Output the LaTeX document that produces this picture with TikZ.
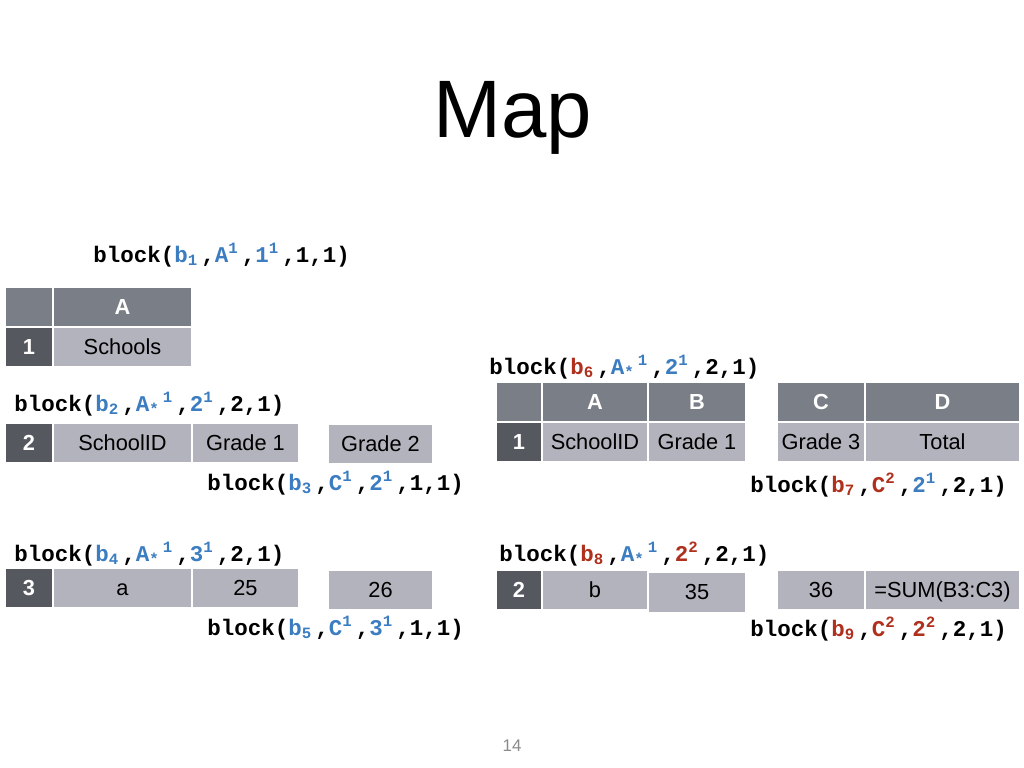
\documentclass[tikz,border=0pt]{standalone}
\usepackage{fontspec}
\setmainfont{Liberation Sans}
\setmonofont{Liberation Mono}
\usetikzlibrary{positioning}

\definecolor{hdrgray}{HTML}{7A7E86}
\definecolor{rowgray}{HTML}{55585E}
\definecolor{cellgray}{HTML}{B3B3BD}
\definecolor{idxblue}{HTML}{3B7DC0}
\definecolor{idxred}{HTML}{B0301E}
\definecolor{pagegray}{HTML}{8A8A8A}
\newcommand{\bl}[1]{\textcolor{idxblue}{#1}}
\newcommand{\rd}[1]{\textcolor{idxred}{#1}}
\newcommand{\sub}[1]{\textsubscript{#1}\kern0.15em}
\newcommand{\sups}[1]{\textsuperscript{#1}\kern0.15em}

\begin{document}
\begin{tikzpicture}[node distance=0pt]
  \tikzstyle{cell}=[draw=white,line width=0.8pt,inner sep=0pt,outer sep=0pt,minimum height=1cm,text height=11pt,text depth=0pt,font=\fontsize{15.5}{17}\selectfont]
  \tikzstyle{hdr}=[cell,fill=hdrgray,text=white,font=\fontsize{15.5}{17}\selectfont\bfseries]
  \tikzstyle{rownum}=[cell,fill=rowgray,text=white,font=\fontsize{15.5}{17}\selectfont\bfseries]
  \tikzstyle{val}=[cell,fill=cellgray]
  \tikzstyle{lbl}=[anchor=base west,inner sep=0pt,font=\fontsize{16}{18}\selectfont\ttfamily\bfseries]
  \useasboundingbox (0,0) rectangle (25.6,-19.2);

  \node[font=\fontsize{58}{60}\selectfont,anchor=base] (title) at (12.825,-3.45) {Map};

  % first sheet, one row
  \node[lbl] (lb1) at (2.325,-6.55) {block(\bl{b\sub{1}},\bl{A\sups{1}},\bl{1\sups{1}},1,1)};
  \node[hdr,minimum width=1.2cm,anchor=north west] (t1corner) at (0.125,-7.175) {};
  \node[hdr,minimum width=3.475cm,right=of t1corner] (t1colA) {A};
  \node[rownum,minimum width=1.2cm,below=of t1corner] (t1row1) {1};
  \node[val,minimum width=3.475cm,right=of t1row1] (t1schools) {Schools};

  % second row
  \node[lbl] (lb2) at (0.35,-10.275) {block(\bl{b\sub{2}},\bl{A\sub{*}\sups{1}},\bl{2\sups{1}},2,1)};
  \node[rownum,minimum width=1.2cm,anchor=north west] (r2num) at (0.125,-10.575) {2};
  \node[val,minimum width=3.475cm,right=of r2num] (r2id) {SchoolID};
  \node[val,minimum width=2.675cm,right=of r2id] (r2g1) {Grade 1};
  \node[val,minimum width=2.625cm,anchor=north west] (r2g2) at (8.2,-10.6) {Grade 2};
  \node[lbl] (lb3) at (5.175,-12.25) {block(\bl{b\sub{3}},\bl{C\sups{1}},\bl{2\sups{1}},1,1)};

  % third row
  \node[lbl] (lb4) at (0.35,-14.025) {block(\bl{b\sub{4}},\bl{A\sub{*}\sups{1}},\bl{3\sups{1}},2,1)};
  \node[rownum,minimum width=1.2cm,anchor=north west] (r3num) at (0.125,-14.2) {3};
  \node[val,minimum width=3.475cm,right=of r3num] (r3a) {a};
  \node[val,minimum width=2.675cm,right=of r3a] (r3g1) {25};
  \node[val,minimum width=2.625cm,anchor=north west] (r3g2) at (8.2,-14.25) {26};
  \node[lbl] (lb5) at (5.175,-15.875) {block(\bl{b\sub{5}},\bl{C\sups{1}},\bl{3\sups{1}},1,1)};

  % second sheet
  \node[lbl] (lb6) at (12.225,-9.35) {block(\rd{b\sub{6}},\bl{A\sub{*}\sups{1}},\bl{2\sups{1}},2,1)};
  \node[hdr,minimum width=1.15cm,anchor=north west] (t2corner) at (12.4,-9.55) {};
  \node[hdr,minimum width=2.65cm,right=of t2corner] (t2colA) {A};
  \node[hdr,minimum width=2.45cm,right=of t2colA] (t2colB) {B};
  \node[rownum,minimum width=1.15cm,below=of t2corner] (t2row1) {1};
  \node[val,minimum width=2.65cm,right=of t2row1] (t2id) {SchoolID};
  \node[val,minimum width=2.45cm,right=of t2id] (t2g1) {Grade 1};

  \node[hdr,minimum width=2.2cm,anchor=north west] (t3colC) at (19.425,-9.55) {C};
  \node[hdr,minimum width=3.875cm,right=of t3colC] (t3colD) {D};
  \node[val,minimum width=2.2cm,below=of t3colC] (t3g3) {Grade 3};
  \node[val,minimum width=3.875cm,right=of t3g3] (t3total) {Total};
  \node[lbl] (lb7) at (18.75,-12.3) {block(\rd{b\sub{7}},\rd{C\sups{2}},\bl{2\sups{1}},2,1)};

  \node[lbl] (lb8) at (12.475,-14.025) {block(\rd{b\sub{8}},\bl{A\sub{*}\sups{1}},\rd{2\sups{2}},2,1)};
  \node[rownum,minimum width=1.15cm,anchor=north west] (r8num) at (12.4,-14.25) {2};
  \node[val,minimum width=2.65cm,right=of r8num] (r8b) {b};
  \node[val,minimum width=2.45cm,right=of r8b,yshift=-1.5pt] (r8g1) {35};
  \node[val,minimum width=2.2cm,anchor=north west] (r8g2) at (19.425,-14.25) {36};
  \node[val,minimum width=3.875cm,right=of r8g2] (r8sum) {=SUM(B3:C3)};
  \node[lbl] (lb9) at (18.75,-15.9) {block(\rd{b\sub{9}},\rd{C\sups{2}},\rd{2\sups{2}},2,1)};

  \node[font=\fontsize{12}{14}\selectfont,text=pagegray,anchor=base] (pagenum) at (12.8,-18.775) {14};
\end{tikzpicture}
\end{document}
